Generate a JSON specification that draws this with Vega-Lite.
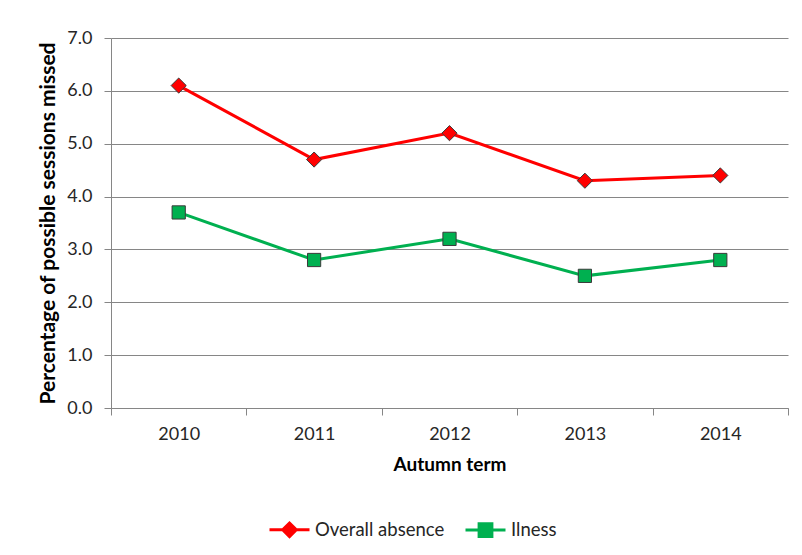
{
  "$schema": "https://vega.github.io/schema/vega-lite/v6.json",
  "autosize": "none",
  "width": 677,
  "height": 370,
  "padding": {"left": 111, "top": 38, "right": 14, "bottom": 147},
  "background": "white",
  "config": {
    "font": "Lato",
    "view": {"stroke": null},
    "axis": {"labelFont": "Lato", "titleFont": "Lato", "labelColor": "#262626", "titleColor": "#000000"}
  },
  "data": {
    "values": [
      {"year": "2010", "series": "Overall absence", "value": 6.1},
      {"year": "2011", "series": "Overall absence", "value": 4.7},
      {"year": "2012", "series": "Overall absence", "value": 5.2},
      {"year": "2013", "series": "Overall absence", "value": 4.3},
      {"year": "2014", "series": "Overall absence", "value": 4.4},
      {"year": "2010", "series": "Ilness", "value": 3.7},
      {"year": "2011", "series": "Ilness", "value": 2.8},
      {"year": "2012", "series": "Ilness", "value": 3.2},
      {"year": "2013", "series": "Ilness", "value": 2.5},
      {"year": "2014", "series": "Ilness", "value": 2.8}
    ]
  },
  "encoding": {
    "x": {
      "field": "year",
      "type": "ordinal",
      "bandPosition": 0.5,
      "scale": {"type": "band", "paddingInner": 0, "paddingOuter": 0},
      "axis": {
        "title": "Autumn term",
        "titleFontSize": 19,
        "titleFontWeight": "bold",
        "titlePadding": 12,
        "labelAngle": 0,
        "labelFontSize": 18,
        "labelPadding": 10,
        "tickBand": "extent",
        "tickSize": 7,
        "tickColor": "#868686",
        "domainColor": "#868686",
        "grid": false
      }
    },
    "y": {
      "field": "value",
      "type": "quantitative",
      "scale": {"domain": [0, 7], "nice": false},
      "axis": {
        "title": "Percentage of possible sessions missed",
        "titleFontSize": 21,
        "titleFontWeight": "bold",
        "titlePadding": 8,
        "values": [0, 1, 2, 3, 4, 5, 6, 7],
        "format": ".1f",
        "labelFontSize": 18,
        "labelPadding": 12,
        "tickSize": 7,
        "tickColor": "#868686",
        "domainColor": "#868686",
        "gridColor": "#868686",
        "grid": true
      }
    }
  },
  "layer": [
    {
      "mark": {"type": "line", "strokeWidth": 3},
      "encoding": {
        "color": {
          "field": "series",
          "type": "nominal",
          "scale": {"domain": ["Overall absence", "Ilness"], "range": ["#ff0000", "#00b050"]},
          "legend": {
            "title": null,
            "orient": "none",
            "direction": "horizontal",
            "legendX": 157,
            "legendY": 470,
            "labelFont": "Lato",
            "labelFontSize": 18.5,
            "labelColor": "#262626",
            "labelOffset": 4,
            "columnPadding": 14,
            "symbolSize": 1600,
            "symbolStrokeWidth": 3,
            "encoding": {
              "symbols": {
                "shape": {"value": {"expr": "datum.value === 'Ilness' ? 'M-1,0H-0.32M0.32,0H1M-0.32,-0.32H0.32V0.32H-0.32Z' : 'M-1,0H-0.34M0.34,0H1M0,-0.34L0.34,0L0,0.34L-0.34,0Z'"}},
                "fill": {"value": {"expr": "datum.value === 'Ilness' ? '#00b050' : '#ff0000'"}},
                "stroke": {"value": {"expr": "datum.value === 'Ilness' ? '#00b050' : '#ff0000'"}},
                "strokeWidth": {"value": 3},
                "opacity": {"value": 1}
              }
            }
          }
        }
      }
    },
    {
      "mark": {"type": "point", "filled": true, "opacity": 1, "stroke": "#3a3a3a", "strokeWidth": 1},
      "encoding": {
        "fill": {
          "field": "series",
          "type": "nominal",
          "scale": {"domain": ["Overall absence", "Ilness"], "range": ["#ff0000", "#00b050"]},
          "legend": null
        },
        "shape": {
          "condition": {"test": "datum.series === 'Ilness'", "value": "square"},
          "value": "diamond"
        },
        "size": {
          "condition": {"test": "datum.series === 'Ilness'", "value": 175},
          "value": 230
        }
      }
    }
  ]
}
